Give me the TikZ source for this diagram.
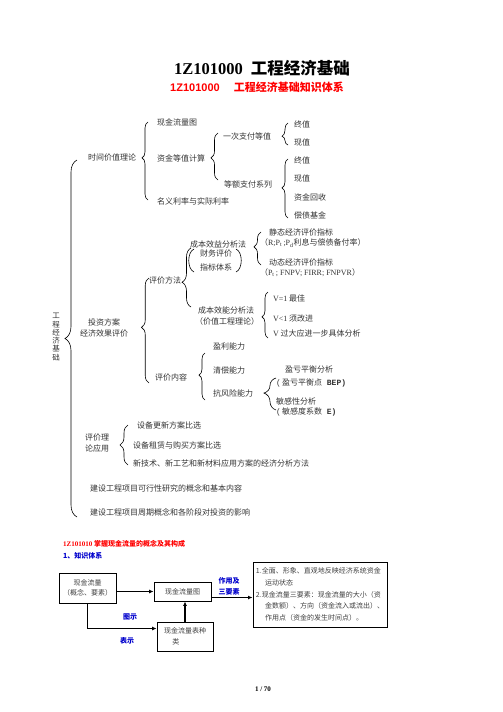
\documentclass[tikz,border=0pt]{standalone}
\usepackage{fontspec}
\setmainfont{Liberation Serif}
\setsansfont{Liberation Sans}
\setmonofont{Liberation Mono}
\newfontfamily\cjk{Noto Sans CJK SC}
\usepackage{tikz}
\usetikzlibrary{calc,positioning,decorations.pathreplacing,arrows.meta}
\definecolor{ebred}{RGB}{255,0,0}
\definecolor{ebblue}{RGB}{0,0,204}
\tikzset{
 eb line/.style={line width=.6pt},
 eb item/.style={anchor=west,inner sep=0pt,outer sep=0pt,text=black!80,
                 font=\cjk\fontsize{8}{11}\selectfont},
 eb box/.style={draw,line width=.9pt,inner sep=3pt,text=black!75,align=center,
                font=\cjk\fontsize{7}{10.5}\selectfont},
 eb arrow/.style={line width=1.1pt,-{Latex[length=4.5pt,width=4pt]}},
 eb tag/.style={font=\cjk\bfseries\fontsize{7}{11.5}\selectfont,text=ebblue,
                align=center,inner sep=0pt}
}

\begin{document}
\begin{tikzpicture}[x=1pt,y=-1pt]
 \useasboundingbox (0,0) rectangle (503,712);
 % titles
 \node[font=\bfseries\fontsize{16.5}{18}\selectfont] (title) at (262,68)
   {1Z101000\hspace{8pt}{\cjk 工程经济基础}};
 \node[font=\sffamily\bfseries\fontsize{11}{13}\selectfont,text=ebred] (subtitle)
   at (257,87) {1Z101000\hspace{14pt}{\cjk 工程经济基础知识体系}};
 % braces: x / top / bottom / amplitude / aspect
 \foreach \x/\ya/\yb/\amp/\asp in {77/160/517/12/.5, 148/122/200/6/.54,
     218/133/180/7/.47, 288/123/145/6/.4, 288/159/218/6/.51,
     149/278/383/7.5/.53, 191/248/307/9/.42, 261/232/265/7/.55,
     268/292/338/6/.46, 205/353/400/6/.53, 276/378/410/12/.53,
     128/425/465/8/.5}{
   \draw[eb line,decorate,decoration={brace,amplitude=\amp pt,aspect=\asp}]
     (\x,\yb)--(\x,\ya);
 }
 \draw[eb line] (194,249) .. controls (187,252) and (187,269) .. (194,272);
 \draw[eb line] (236,249) .. controls (243,252) and (243,269) .. (236,272);
 % first level
 \node[eb item,anchor=center,align=center,font=\cjk\fontsize{7.5}{8.3}\selectfont]
   (root) at (56,337) {工\\程\\经\\济\\基\\础};
 \node[eb item] (time) at (88,157) {时间价值理论};
 \node[eb item,anchor=center,align=center] (invest) at (104,327.5)
   {投资方案\\经济效果评价};
 \node[eb item,align=left] (apply) at (85,442.5) {评价理\\论应用};
 \node[eb item] (study) at (90,488) {建设工程项目可行性研究的概念和基本内容};
 \node[eb item] (cycle) at (90,512) {建设工程项目周期概念和各阶段对投资的影响};
 % time value
 \node[eb item] (chart) at (157,122) {现金流量图};
 \node[eb item] (equiv) at (157,158) {资金等值计算};
 \node[eb item] (rate) at (157,201) {名义利率与实际利率};
 \node[eb item] (once) at (223,136) {一次支付等值};
 \node[eb item] (series) at (224,184) {等额支付系列};
 \foreach \t/\y [count=\i] in {终值/124,现值/142,终值/160,现值/178,
     资金回收/197,偿债基金/215}{
   \node[eb item] (v\i) at (294,\y) {\t};
 }
 % evaluation
 \node[eb item] (method) at (149,280) {评价方法};
 \node[eb item] (content) at (155,377) {评价内容};
 \node[eb item] (benefit) at (190,244) {成本效益分析法};
 \node[eb item] (fin1) at (200,253) {财务评价};
 \node[eb item] (fin2) at (200,267) {指标体系};
 \node[eb item] (effect) at (198,310) {成本效能分析法};
 \node[eb item] (value) at (195,321) {（价值工程理论）};
 \node[eb item] (static) at (269,232) {静态经济评价指标};
 \node[eb item] (staticI) at (260,243)
   {（{\rmfamily R;P\textsubscript{t}\,;P\textsubscript{d}}利息与偿债备付率）};
 \node[eb item] (dynamic) at (269,262) {动态经济评价指标};
 \node[eb item] (dynamicI) at (260,273)
   {（{\rmfamily P\textsubscript{t}\,; FNPV; FIRR; FNPVR}）};
 \node[eb item] (vbest) at (273,298) {{\rmfamily V=1} 最佳};
 \node[eb item] (vless) at (273,318) {{\rmfamily V<1} 须改进};
 \node[eb item] (vmore) at (273,333) {{\rmfamily V} 过大应进一步具体分析};
 \node[eb item] (profit) at (213,346) {盈利能力};
 \node[eb item] (solv) at (213,370) {清偿能力};
 \node[eb item] (risk) at (213,393) {抗风险能力};
 \node[eb item] (bep) at (285,369) {盈亏平衡分析};
 \node[eb item] (bepI) at (276,383) {{\ttfamily(\,}盈亏平衡点{\ttfamily\bfseries\ BEP)}};
 \node[eb item] (sens) at (276,401) {敏感性分析};
 \node[eb item] (sensI) at (276,412) {{\ttfamily(\,}敏感度系数{\ttfamily\bfseries\ E)}};
 % application
 \node[eb item] (renew) at (137,425) {设备更新方案比选};
 \node[eb item] (lease) at (133,445) {设备租赁与购买方案比选};
 \node[eb item] (newtech) at (133,463) {新技术、新工艺和新材料应用方案的经济分析方法};
 % cash flow section
 \node[anchor=west,inner sep=0pt,text=ebred,font=\bfseries\fontsize{7}{9}\selectfont]
   (sec) at (63,544) {1Z101010 {\cjk 掌握现金流量的概念及其构成}};
 \node[anchor=west,inner sep=0pt,text=ebblue,font=\cjk\bfseries\fontsize{7}{9}\selectfont]
   (sys) at (63,556) {1、知识体系};
 \node[eb box,minimum width=57pt,minimum height=30pt] (cfA) at (87.5,588)
   {现金流量\\（概念、要素）};
 \node[eb box,minimum width=57pt,minimum height=19pt] (cfB) at (182.5,591.5)
   {现金流量图};
 \node[eb box,align=left,minimum width=134pt,minimum height=65pt,
       font=\cjk\fontsize{7}{11.8}\selectfont] (cfC) at (320,594.5)
   {1.全面、形象、直观地反映经济系统资金\\
    \hspace*{1.3em}运动状态\\
    2.现金流量三要素：现金流量的大小（资\\
    \hspace*{1.3em}金数额）、方向（资金流入或流出）、\\
    \hspace*{1.3em}作用点（资金的发生时间点）。};
 \node[eb box,align=left,minimum width=56pt,minimum height=29pt] (cfD) at (185,636.5)
   {现金流量表种\\\hspace*{1.2em}类};
 \draw[eb arrow] (cfA.east |- cfB.west) -- (cfB.west);
 \draw[eb arrow] ([yshift=-6pt]cfB.east) -- ([yshift=-6pt]cfB.east -| cfC.west);
 \draw[eb arrow] (cfA.south) |- ([yshift=8pt]cfD.west);
 \draw[eb arrow] (cfD.north) -- (cfD.north |- cfB.south);
 \node[eb tag] (tagUse) at (229,586.5) {作用及\\三要素};
 \node[eb tag] (tagShow) at (130,617) {图示};
 \node[eb tag] (tagTab) at (127,641) {表示};
 \node[font=\bfseries\fontsize{7}{9}\selectfont] (page) at (263,689) {1 / 70};
\end{tikzpicture}
\end{document}
